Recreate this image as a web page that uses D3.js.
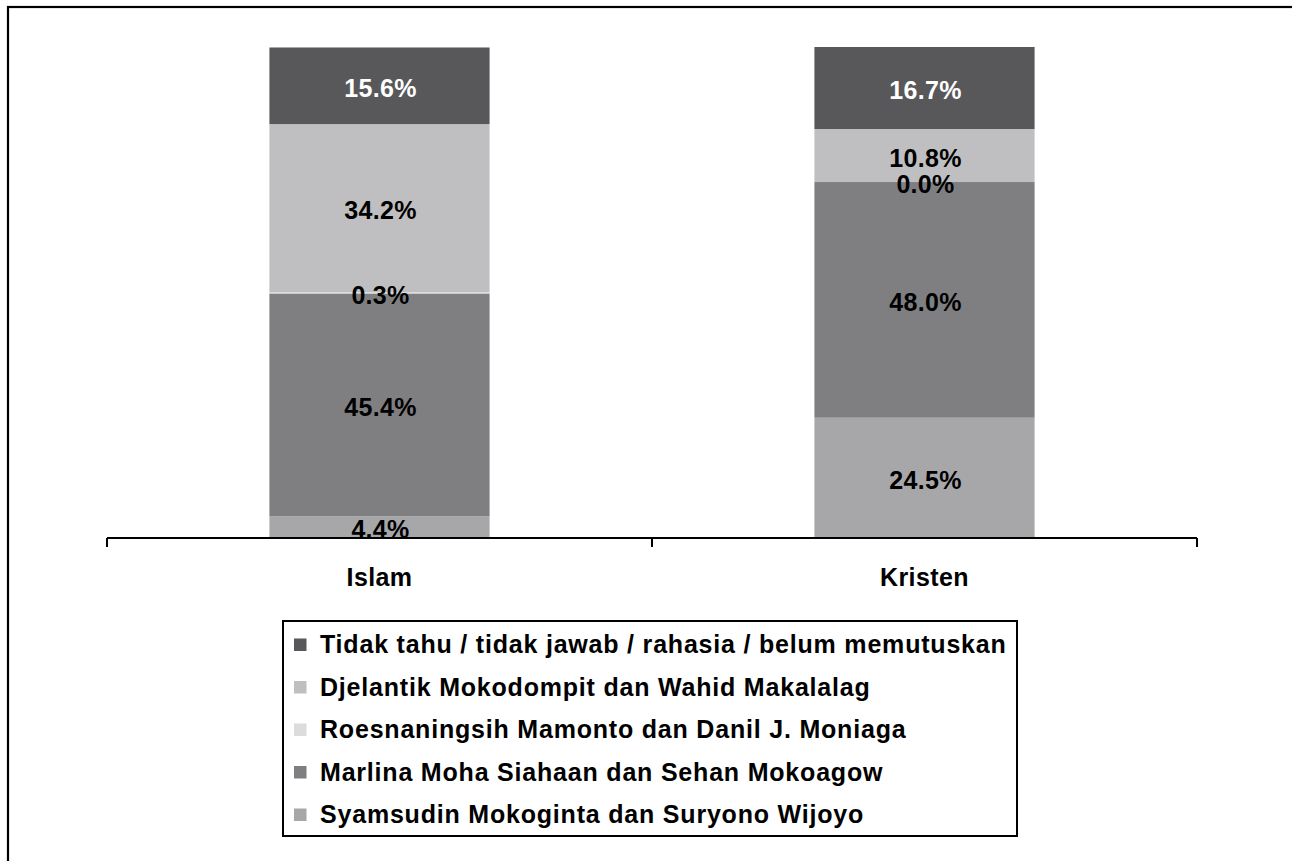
<!DOCTYPE html>
<html>
<head>
<meta charset="utf-8">
<script src="https://cdn.jsdelivr.net/npm/d3@7/dist/d3.min.js"></script>
<style>
  html, body { margin: 0; padding: 0; background: #fff; }
  svg { display: block; font-family: "Liberation Sans", Arial, sans-serif; }
</style>
</head>
<body>
<svg id="chart" width="1292" height="861"></svg>
<script>
// ---- data ----
const categories = ["Islam", "Kristen"];
const seriesNames = [
  "Syamsudin Mokoginta dan Suryono Wijoyo",
  "Marlina Moha Siahaan dan Sehan Mokoagow",
  "Roesnaningsih Mamonto dan Danil J. Moniaga",
  "Djelantik Mokodompit dan Wahid Makalalag",
  "Tidak tahu / tidak jawab / rahasia / belum memutuskan"
];
const syamsudin = [4.4, 24.5];
const marlina = [45.4, 48.0];
const roesnaningsih = [0.3, 0.0];
const djelantik = [34.2, 10.8];
const tidakTahu = [15.6, 16.7];
const seriesColors = ["#a7a7aa", "#7f7f82", "#dcdcdc", "#bfbfc1", "#58585a"];
const labelColors = ["#000", "#000", "#000", "#000", "#fff"];

const seriesValues = [syamsudin, marlina, roesnaningsih, djelantik, tidakTahu];

const rows = categories.map((c, i) => {
  const r = { category: c };
  seriesNames.forEach((s, j) => r[s] = seriesValues[j][i]);
  return r;
});

const svg = d3.select("#chart");

// outer frame
svg.append("rect").attr("x", 8).attr("y", 7).attr("width", 1400).attr("height", 1000)
  .attr("fill", "none").attr("stroke", "#000").attr("stroke-width", 2.2);

const plotLeft = 107, plotRight = 1197, plotTop = 47, plotBottom = 538;
const x = d3.scaleBand().domain(categories).range([plotLeft, plotRight])
  .paddingInner(0.596).paddingOuter(0.298);
const y = d3.scaleLinear().domain([0, 100]).range([plotBottom, plotTop]);

const stack = d3.stack().keys(seriesNames);
const stacked = stack(rows);

const g = svg.append("g");
stacked.forEach((layer, j) => {
  g.selectAll(null).data(layer).enter().append("rect")
    .attr("x", d => x(d.data.category))
    .attr("width", x.bandwidth())
    .attr("y", d => y(d[1]))
    .attr("height", d => y(d[0]) - y(d[1]))
    .attr("fill", seriesColors[j]);
});

// labels
stacked.forEach((layer, j) => {
  g.selectAll(null).data(layer).enter().append("text")
    .attr("x", d => x(d.data.category) + x.bandwidth() / 2 + 1)
    .attr("y", d => (y(d[0]) + y(d[1])) / 2 + 2)
    .attr("dy", "0.36em")
    .attr("text-anchor", "middle")
    .attr("font-size", 25)
    .attr("font-weight", "bold")
    .attr("letter-spacing", "0.3px")
    .attr("fill", labelColors[j])
    .text(d => (d[1] - d[0]).toFixed(1) + "%");
});

// axis
const axis = d3.axisBottom(x).tickSize(0).tickPadding(30);
const ax = svg.append("g").attr("transform", `translate(0,${plotBottom})`).call(axis);
ax.select(".domain").remove();
ax.selectAll("text").attr("font-size", 25).attr("font-weight", "bold")
  .attr("fill", "#000").attr("font-family", "Liberation Sans, Arial, sans-serif")
  .attr("letter-spacing", "0.4px");
svg.append("line").attr("x1", plotLeft).attr("x2", plotRight).attr("y1", plotBottom).attr("y2", plotBottom)
  .attr("stroke", "#000").attr("stroke-width", 2);
const boundaries = [plotLeft].concat(categories.map(c => x(c) + x.bandwidth() + x.step() * x.paddingInner() / 2));
boundaries[boundaries.length - 1] = plotRight;
svg.selectAll(null).data(boundaries).enter().append("line")
  .attr("x1", d => d).attr("x2", d => d).attr("y1", plotBottom).attr("y2", plotBottom + 9)
  .attr("stroke", "#000").attr("stroke-width", 2);

// legend
const lg = svg.append("g");
lg.append("rect").attr("x", 283).attr("y", 621).attr("width", 734).attr("height", 215)
  .attr("fill", "#fff").attr("stroke", "#000").attr("stroke-width", 2);
const legendOrder = d3.range(seriesNames.length).reverse();
legendOrder.forEach((j, k) => {
  const base = 653 + k * 42.5;
  lg.append("rect").attr("x", 294).attr("y", base - 14.5).attr("width", 12.5).attr("height", 12.5)
    .attr("fill", seriesColors[j]);
  lg.append("text").attr("x", 320).attr("y", base)
    .attr("font-size", 25).attr("font-weight", "bold").attr("fill", "#000")
    .attr("letter-spacing", "0.8px")
    .text(seriesNames[j]);
});
</script>
</body>
</html>
